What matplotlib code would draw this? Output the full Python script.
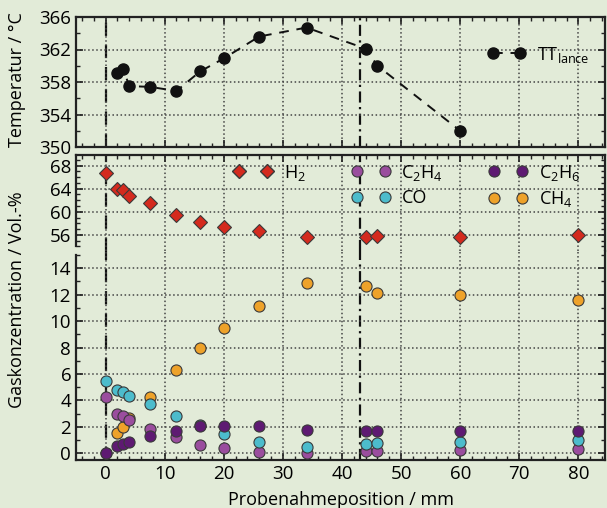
import matplotlib
matplotlib.use("Agg")
import matplotlib.pyplot as plt
from matplotlib.lines import Line2D
from matplotlib.ticker import MultipleLocator

plt.rcParams['font.family'] = ['Open Sans', 'DejaVu Sans']
plt.rcParams['mathtext.fontset'] = 'custom'
plt.rcParams['mathtext.rm'] = 'Open Sans'

# temperature along the lance
pos_T = [2, 3, 4, 7.5, 12, 16, 20, 26, 34, 44, 46, 60]
temp = [359.1, 359.6, 357.5, 357.4, 356.9, 359.3, 360.9, 363.6, 364.7, 362.1, 360.0, 352.0]
temp_ticks = [350, 354, 358, 362, 366]

# gas concentrations
pos = [0, 2, 3, 4, 7.5, 12, 16, 20, 26, 34, 44, 46, 60, 80]
h2 = [66.7, 64.0, 63.7, 62.8, 61.5, 59.5, 58.3, 57.4, 56.6, 55.7, 55.6, 55.8, 55.6, 56.0]
ch4 = [0.0, 1.57, 2.02, 2.66, 4.23, 6.28, 7.98, 9.5, 11.15, 12.87, 12.62, 12.11, 11.98, 11.58]
co = [5.5, 4.76, 4.61, 4.36, 3.73, 2.84, 2.1, 1.44, 0.88, 0.5, 0.68, 0.81, 0.88, 1.01]
c2h6 = [0.0, 0.58, 0.71, 0.84, 1.27, 1.7, 2.03, 2.08, 2.03, 1.77, 1.7, 1.7, 1.7, 1.7]
c2h4 = [4.26, 2.99, 2.79, 2.53, 1.85, 1.22, 0.63, 0.38, 0.13, 0.05, 0.17, 0.17, 0.25, 0.3]

bg = '#e2ebd8'
c_h2, c_c2h4, c_c2h6, c_co, c_ch4 = '#d42a1e', '#9a4d9e', '#5e1a72', '#4cbccc', '#eea22a'
edge = '#3a3a3a'

fig = plt.figure(figsize=(6.07, 5.08), dpi=100, facecolor=bg)
L, R = 76 / 607, 605 / 607
def box(top, bot):
    return [L, 1 - bot / 508, R - L, (bot - top) / 508]

ax_t = fig.add_axes(box(17, 147))
ax_m = fig.add_axes(box(155, 251))
ax_b = fig.add_axes(box(251, 460))

for ax in (ax_t, ax_m, ax_b):
    ax.set_facecolor(bg)
    ax.set_xlim(-5, 84.5)
    ax.xaxis.set_major_locator(MultipleLocator(10))
    ax.xaxis.set_minor_locator(MultipleLocator(2))
    ax.grid(True, which='major', linestyle=':', color='#444444', linewidth=1.1)
    ax.tick_params(which='both', direction='in', top=True, right=True,
                   labelsize=13.5, color='#222222')
    ax.tick_params(which='major', length=5, width=1.2)
    ax.tick_params(which='minor', length=3, width=1)
    for s in ax.spines.values():
        s.set_linewidth(1.6)
        s.set_color('#222222')
    ax.axvline(0, color='#111111', linestyle=(0, (6, 4)), linewidth=1.6, zorder=1)
    ax.axvline(43, color='#111111', linestyle=(0, (5, 2, 1, 2)), linewidth=1.6, zorder=1)

# top panel
ax_t.plot(pos_T, temp, linestyle=(0, (5, 4)), color='#111111', marker='o',
          markersize=8, linewidth=1.4, label=r'TT$_{\mathrm{lance}}$', zorder=3)
ax_t.set_ylim(350, 366)
ax_t.set_yticks(temp_ticks)
ax_t.yaxis.set_minor_locator(MultipleLocator(2))
ax_t.tick_params(labelbottom=False)
ax_t.legend(loc='center left', bbox_to_anchor=(0.748, 0.71), frameon=False,
            numpoints=2, handlelength=2.1, handletextpad=0.6, fontsize=13)

# middle panel (H2)
ax_m.set_ylim(53.2, 69.85)
ax_m.yaxis.set_major_locator(MultipleLocator(4))
ax_m.yaxis.set_minor_locator(MultipleLocator(1))
ax_m.tick_params(labelbottom=False, bottom=False, which='both')
ax_m.spines['bottom'].set_visible(False)
ax_m.spines['left'].set_bounds(54.0, 69.85)
ax_m.plot(pos, h2, 'D', color=c_h2, markeredgecolor=edge, markersize=7,
          markeredgewidth=0.8, zorder=3)

# bottom panel
ax_b.set_ylim(-0.51, 15.3)
ax_b.yaxis.set_minor_locator(MultipleLocator(1))
ax_b.tick_params(top=False, which='both')
ax_b.spines['top'].set_visible(False)
ax_b.spines['left'].set_bounds(-0.51, 15.0)
ax_b.set_yticks([0, 2, 4, 6, 8, 10, 12, 14])
ms = dict(marker='o', linestyle='none', markersize=8, markeredgecolor=edge,
          markeredgewidth=0.8)
ax_b.plot(pos, ch4, color=c_ch4, zorder=3, **ms)
ax_b.plot(pos, c2h4, color=c_c2h4, zorder=3, **ms)
ax_b.plot(pos, co, color=c_co, zorder=3, **ms)
ax_b.plot(pos, c2h6, color=c_c2h6, zorder=3, **ms)

handles = [
    Line2D([], [], marker='D', linestyle='none', color=c_h2, markeredgecolor=edge, markersize=7),
    Line2D([], [], linestyle='none', marker=None),
    Line2D([], [], color=c_c2h4, **ms),
    Line2D([], [], color=c_co, **ms),
    Line2D([], [], color=c_c2h6, **ms),
    Line2D([], [], color=c_ch4, **ms),
]
labels = [r'H$_2$', '', r'C$_2$H$_4$', 'CO', r'C$_2$H$_6$', r'CH$_4$']
ax_m.legend(handles, labels, ncol=3, numpoints=2, loc='upper left',
            bbox_to_anchor=(0.268, 1.09), frameon=False, fontsize=13,
            handlelength=2.15, handletextpad=0.6, columnspacing=2.55,
            labelspacing=0.35)

ax_b.set_xlabel('Probenahmeposition / mm', fontsize=13, labelpad=6)
fig.text(0.028, 0.843, 'Temperatur / °C', rotation=90, ha='center', va='center', fontsize=13)
fig.text(0.028, 0.41, 'Gaskonzentration / Vol.-%', rotation=90, ha='center', va='center', fontsize=13)

fig.savefig('out.png', dpi=100, facecolor=bg)
